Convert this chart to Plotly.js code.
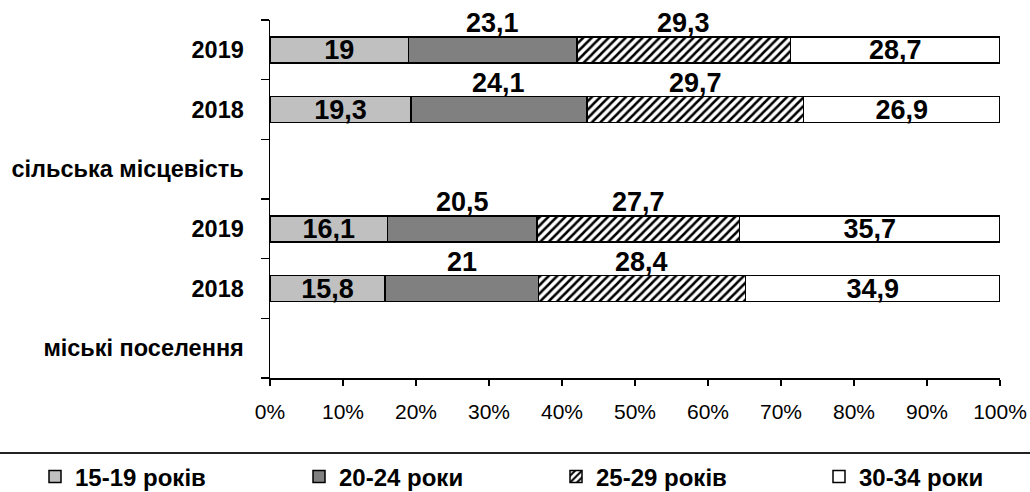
<!DOCTYPE html>
<html>
<head>
<meta charset="utf-8">
<script src="https://cdn.plot.ly/plotly-3.0.1.min.js"></script>
<style>html,body{margin:0;padding:0;background:#fff;}#chart{width:1030px;height:492px;}</style>
</head>
<body>
<div id="chart"></div>
<script>
// Categories (bottom to top)
const categoryIds = ['urban', 'urban2018', 'urban2019', 'rural', 'rural2018', 'rural2019'];
const categoryLabels = ['міські поселення', '2018', '2019', 'сільська місцевість', '2018', '2019'];
// Rows that carry bars
const barRows = ['urban2018', 'urban2019', 'rural2018', 'rural2019'];
// Series
const seriesNames = ['15-19 років', '20-24 роки', '25-29 років', '30-34 роки'];
const age15_19 = [15.8, 16.1, 19.3, 19];
const age20_24 = [21, 20.5, 24.1, 23.1];
const age25_29 = [28.4, 27.7, 29.7, 29.3];
const age30_34 = [34.9, 35.7, 26.9, 28.7];
// x tick values
const xTicks = [0, 10, 20, 30, 40, 50, 60, 70, 80, 90, 100];

const series = [age15_19, age20_24, age25_29, age30_34];
const FONT = 'Liberation Sans, Arial, sans-serif';
const fmt = v => String(v).replace('.', ',');

const styles = [
  {color: '#c0c0c0'},
  {color: '#808080'},
  {color: '#ffffff', pattern: {shape: '/', fgcolor: '#000000', bgcolor: '#ffffff', size: 6, solidity: 0.42}},
  {color: '#ffffff'}
];
const insideLabel = [true, false, false, true];
const legendIds = ['legend', 'legend2', 'legend3', 'legend4'];
const legendX = [35, 299, 556, 819];

const traces = series.map((vals, i) => {
  const t = {
    type: 'bar',
    orientation: 'h',
    name: seriesNames[i],
    legend: legendIds[i],
    y: barRows,
    x: vals,
    marker: Object.assign({line: {color: '#000000', width: 1.5}}, styles[i]),
    hoverinfo: 'none'
  };
  if (insideLabel[i]) {
    t.text = vals.map(fmt);
    t.textposition = 'inside';
    t.insidetextanchor = 'middle';
    t.constraintext = 'none';
    t.textangle = 0;
    t.insidetextfont = {family: FONT, size: 27, color: '#000', weight: 'bold'};
  } else {
    t.textposition = 'none';
  }
  return t;
});

// Labels above the bar for middle series
const annotations = [];
barRows.forEach((row, r) => {
  const total = series.reduce((s, arr) => s + arr[r], 0);
  let cum = 0;
  series.forEach((arr, i) => {
    const v = arr[r];
    if (!insideLabel[i]) {
      annotations.push({
        x: (cum + v / 2) / total * 100,
        y: row,
        xref: 'x', yref: 'y',
        text: fmt(v),
        showarrow: false,
        yshift: 27,
        font: {family: FONT, size: 27, color: '#000', weight: 'bold'}
      });
    }
    cum += v;
  });
});

const layout = {
  width: 1030, height: 492,
  margin: {l: 270, r: 30, t: 20, b: 114, pad: 0},
  paper_bgcolor: '#fff', plot_bgcolor: '#fff',
  barmode: 'stack',
  barnorm: 'percent',
  bargap: 0.565,
  showlegend: true,
  xaxis: {
    range: [0, 100],
    tickmode: 'array', tickvals: xTicks, ticktext: xTicks.map(v => v + '%'),
    ticks: 'outside', ticklen: 6, tickwidth: 1.5, tickcolor: '#000',
    showline: true, linecolor: '#000', linewidth: 1.5,
    showgrid: false, zeroline: false,
    ticklabelstandoff: 8,
    tickfont: {family: FONT, size: 21, color: '#000'}
  },
  yaxis: {
    type: 'category',
    categoryorder: 'array', categoryarray: categoryIds,
    tickmode: 'array', tickvals: categoryIds, ticktext: categoryLabels,
    tickson: 'boundaries',
    range: [-0.5, 5.5],
    ticks: 'outside', ticklen: 8, tickwidth: 1.5, tickcolor: '#000',
    showline: true, linecolor: '#000', linewidth: 1.5,
    showgrid: false, zeroline: false,
    ticklabelstandoff: 20,
    tickfont: {family: FONT, size: 23.5, color: '#000', weight: 'bold'}
  },
  shapes: [{
    type: 'line', xref: 'paper', yref: 'paper',
    x0: -270 / 730, x1: 1 + 30 / 730,
    y0: -75 / 358, y1: -75 / 358,
    line: {color: '#222', width: 2}
  }],
  annotations: annotations
};

legendIds.forEach((id, i) => {
  layout[id] = {
    orientation: 'h',
    xref: 'container', yref: 'container',
    x: legendX[i] / 1030, xanchor: 'left',
    y: 15 / 492, yanchor: 'middle',
    font: {family: FONT, size: 24, color: '#000', weight: 'bold'},
    bgcolor: 'rgba(0,0,0,0)', borderwidth: 0
  };
});

Plotly.newPlot('chart', traces, layout, {displayModeBar: false, staticPlot: true});
</script>
</body>
</html>
